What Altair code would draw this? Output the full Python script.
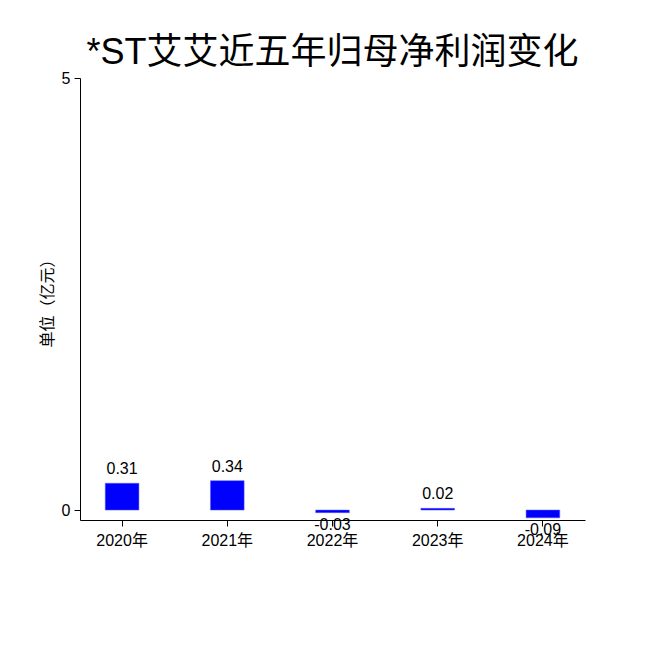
import altair as alt
import pandas as pd

years = ["2020年", "2021年", "2022年", "2023年", "2024年"]
values = [0.31, 0.34, -0.03, 0.02, -0.09]
labels = ["0.31", "0.34", "-0.03", "0.02", "-0.09"]

df = pd.DataFrame({"year": years, "value": values, "label": labels})

FONT = "'Liberation Sans', 'Noto Sans CJK SC'"
CJK = "'Noto Sans CJK SC'"

x = alt.X("year:N", sort=years, title=None,
          scale=alt.Scale(paddingInner=0.68, paddingOuter=0.24),
          axis=alt.Axis(labelAngle=0, labelFontSize=16, labelColor="black",
                        tickColor="black", tickSize=6, domainColor="black",
                        labelPadding=6, labelFont=FONT))
y = alt.Y("value:Q", title="单位（亿元）",
          scale=alt.Scale(domain=[-0.115, 5], nice=False, zero=False),
          axis=alt.Axis(values=[0, 5], grid=False, labelFontSize=16, labelColor="black",
                        tickColor="black", tickSize=6, domainColor="black",
                        labelPadding=4, titleFontSize=16, titleFontWeight="normal",
                        titleColor="black", titleFont=CJK, titlePadding=6,
                        labelFont=FONT))

base = alt.Chart(df)
bars = base.mark_bar(color="#0000ff", stroke="#5a5aff", strokeWidth=0.5).encode(x=x, y=y)
pos = base.transform_filter("datum.value >= 0").mark_text(
    baseline="bottom", dy=-6, fontSize=16, font=FONT, color="black").encode(x=x, y=y, text="label:N")
neg = base.transform_filter("datum.value < 0").mark_text(
    baseline="top", dy=4, fontSize=16, font=FONT, color="black").encode(x=x, y=y, text="label:N")

chart = alt.layer(bars, pos, neg).properties(
    width=505, height=442,
    title=alt.TitleParams("*ST艾艾近五年归母净利润变化", fontSize=36, font=FONT,
                          fontWeight="normal", color="black", anchor="middle", offset=-2),
    autosize=alt.AutoSizeParams(type="none"),
    padding={"left": 72, "top": 70, "right": 57, "bottom": 106},
).configure(background="white").configure_view(stroke=None)

chart.save("out.html", embed_options={"renderer": "svg", "actions": False})
